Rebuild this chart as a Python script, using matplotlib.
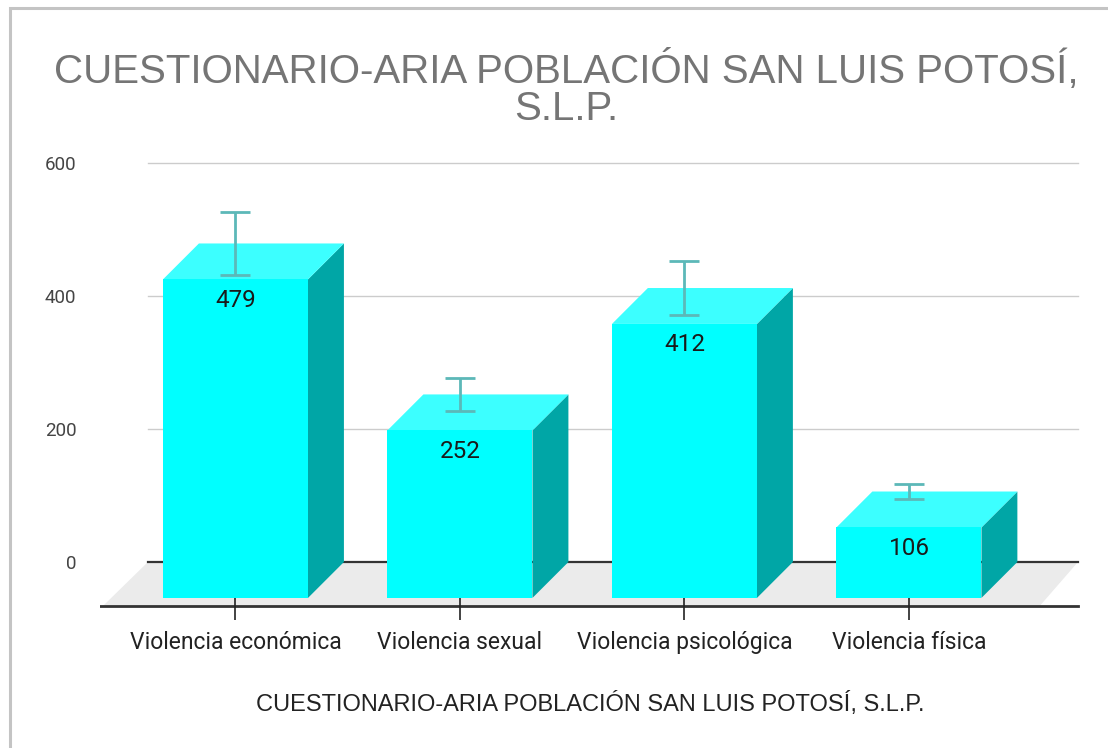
import matplotlib
matplotlib.use("Agg")
import matplotlib.pyplot as plt
from matplotlib.patches import Polygon, Rectangle
import numpy as np

# data
categories = ["Violencia económica", "Violencia sexual", "Violencia psicológica", "Violencia física"]
values = [479, 252, 412, 106]
error_pct = 0.10  # error bars look like +/- 10 %
yticks = [0, 200, 400, 600]
title = "CUESTIONARIO-ARIA POBLACIÓN SAN LUIS POTOSÍ,\nS.L.P."
xtitle = "CUESTIONARIO-ARIA POBLACIÓN SAN LUIS POTOSÍ, S.L.P."

# style
FRONT = "#00ffff"
TOP = "#3cffff"
SIDE = "#00a6a6"
FLOOR = "#ebebeb"
GRID = "#cccccc"
ERR = "#5cb8b8"
bar_w = 0.646
dx = 0.16     # 3d depth in x units
dy = 54       # 3d depth in value units
floor_d = 66  # depth of the floor in value units

W, H = 1108, 748
fig = plt.figure(figsize=(W / 100, H / 100), dpi=100)

# frame around the chart
fig.patches.append(Rectangle((10 / W, -0.1), 1.2, 1 - 8 / H + 0.1, transform=fig.transFigure,
                             fill=False, edgecolor="#c4c4c4", linewidth=2.2))

ax = fig.add_axes([100 / W, 1 - 628.5 / H, 980 / W, (628.5 - 136.4) / H])
ax.set_xlim(-0.6036, 3.762)
ax.set_ylim(-100, 640)
for s in ax.spines.values():
    s.set_visible(False)

x = np.arange(len(values))

# floor
xl, xr = -0.39, 3.753
floor = Polygon([(xl, 0), (xr, 0), (xr - 0.17, -floor_d), (xl - 0.2, -floor_d)],
                closed=True, facecolor=FLOOR, edgecolor="none", zorder=0)
ax.add_patch(floor)

# grid lines on the back wall
for t in yticks[1:]:
    ax.plot([xl, xr], [t, t], color=GRID, lw=1, zorder=1)
ax.plot([xl, xr], [0, 0], color="#333333", lw=1.6, zorder=1)
ax.plot([-0.6036, xr], [-floor_d, -floor_d], color="#333333", lw=2, zorder=1)

# category ticks
ax.vlines(x, -52, -87, color="#222222", lw=1.2, zorder=2)

# bars as boxes
for xi, v in zip(x, values):
    l, r = xi - bar_w / 2, xi + bar_w / 2
    side = Polygon([(r, -dy), (r + dx, 0), (r + dx, v), (r, v - dy)], closed=True,
                   facecolor=SIDE, edgecolor="none", zorder=3)
    top = Polygon([(l, v - dy), (r, v - dy), (r + dx, v), (l + dx, v)], closed=True,
                  facecolor=TOP, edgecolor="none", zorder=3)
    front = Rectangle((l, -dy), bar_w, v, facecolor=FRONT, edgecolor="none", zorder=4)
    ax.add_patch(side)
    ax.add_patch(top)
    ax.add_patch(front)
    ax.annotate(str(v), (xi, v - dy), xytext=(0, -21), textcoords="offset pixels",
                ha="center", va="center", fontsize=17.5, family="Roboto",
                color="#1a1a1a", zorder=6)

# error bars
err = [v * error_pct for v in values]
ax.errorbar(x, values, yerr=err, fmt="none", ecolor=ERR, elinewidth=2,
            capsize=11, capthick=2, zorder=5)

ax.set_yticks(yticks)
ax.set_yticklabels([str(t) for t in yticks], family="Roboto", fontsize=13.5, color="#444444")
ax.tick_params(axis="y", length=0, pad=17)
ax.set_xticks(x)
ax.set_xticklabels(categories, family="Roboto", fontsize=16.5, color="#222222")
ax.tick_params(axis="x", length=0, pad=2)
ax.set_xlabel(xtitle, family="Liberation Sans", fontsize=17, color="#222222", labelpad=27)

fig.text(566 / W, 1 - 89 / H, title, ha="center", va="center", multialignment="center",
         family="Liberation Sans", fontsize=29, color="#757575", linespacing=1.0)

fig.savefig("out.png", dpi=100)
